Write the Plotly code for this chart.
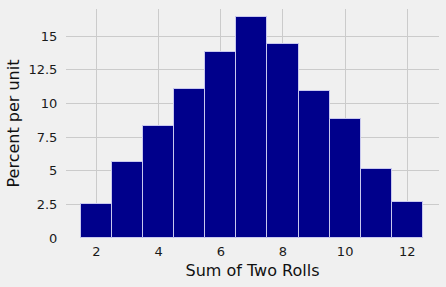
import plotly.graph_objects as go

sums = [2, 3, 4, 5, 6, 7, 8, 9, 10, 11, 12]
percent_per_unit = [2.55, 5.65, 8.3, 11.1, 13.8, 16.4, 14.45, 10.9, 8.85, 5.15, 2.7]
x_ticks = [2, 4, 6, 8, 10, 12]
y_ticks = [0, 2.5, 5, 7.5, 10, 12.5, 15]
y_tick_labels = ["0", "2.5", "5", "7.5", "10", "12.5", "15"]

fig = go.Figure()
fig.add_trace(go.Bar(
    x=sums, y=percent_per_unit, width=1,
    marker=dict(color="#00008b", line=dict(color="#c8c8ee", width=1)),
))

fig.update_layout(
    width=446, height=287,
    margin=dict(l=66, r=7, t=9, b=48.5),
    paper_bgcolor="#f0f0f0", plot_bgcolor="#f0f0f0",
    font=dict(family="DejaVu Sans", size=13, color="#1a1a1a"),
    showlegend=False, bargap=0,
)
fig.update_xaxes(
    range=[1.02, 13.02], tickvals=x_ticks,
    showgrid=True, gridcolor="#cbcbcb", gridwidth=1.3,
    zeroline=False, showline=False,
    ticks="outside", ticklen=1, tickcolor="rgba(0,0,0,0)",
    title=dict(text="Sum of Two Rolls", font=dict(size=16, color="#111111"), standoff=7),
)
fig.update_yaxes(
    range=[0, 17.03], tickvals=y_ticks, ticktext=y_tick_labels,
    showgrid=True, gridcolor="#cbcbcb", gridwidth=1.3,
    zeroline=False, showline=False,
    ticks="outside", ticklen=5, tickcolor="rgba(0,0,0,0)",
    title=dict(text="Percent per unit", font=dict(size=16, color="#111111"), standoff=4),
)

fig.write_html("out.html")
